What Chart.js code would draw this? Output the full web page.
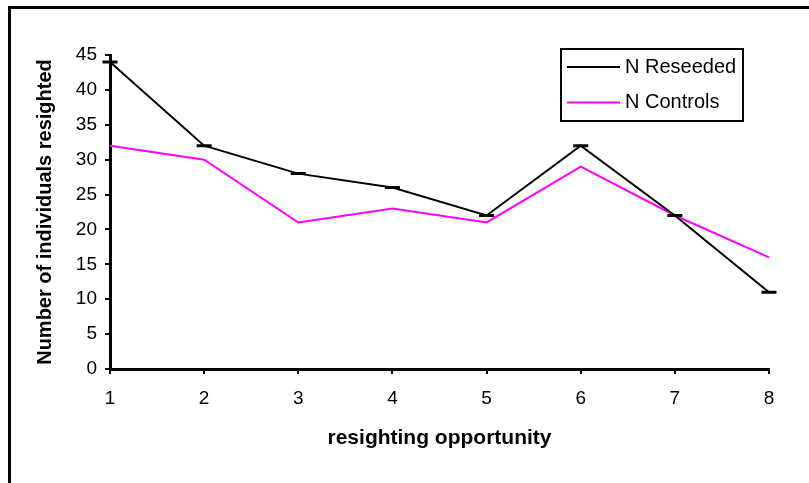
<!DOCTYPE html>
<html>
<head>
<meta charset="utf-8">
<script src="https://cdn.jsdelivr.net/npm/chart.js@4.4.1/dist/chart.umd.min.js"></script>
<style>
  html, body { margin: 0; padding: 0; background: #fff; }
  #wrap { position: relative; width: 809px; height: 483px; }
  #frame { position: absolute; left: 8px; top: 6px; width: 801px; height: 477px;
           border-top: 3px solid #000; border-left: 3px solid #000; box-sizing: border-box;
           pointer-events: none; }
</style>
</head>
<body>
<div id="wrap">
  <canvas id="myChart" width="809" height="483"></canvas>
  <div id="frame"></div>
</div>
<script>
const opportunities = ['1', '2', '3', '4', '5', '6', '7', '8'];
const nReseeded = [44, 32, 28, 26, 22, 32, 22, 11];
const nControls = [32, 30, 21, 23, 21, 29, 22, 16];
const yMin = 0, yMax = 45, yStep = 5;

const FONT = '"Liberation Sans", Arial, sans-serif';

// legend drawn as a boxed key inside the plot, like the original
const boxLegend = {
  id: 'boxLegend',
  afterDraw(chart) {
    const ctx = chart.ctx;
    ctx.save();
    ctx.lineWidth = 2;
    ctx.strokeStyle = '#000';
    ctx.strokeRect(561, 49, 182, 72);
    chart.data.datasets.forEach((ds, i) => {
      const y = 67 + i * 35.5;
      ctx.strokeStyle = ds.borderColor;
      ctx.lineWidth = 2;
      ctx.beginPath();
      ctx.moveTo(567, y);
      ctx.lineTo(620, y);
      ctx.stroke();
      ctx.fillStyle = '#000';
      ctx.font = '20px ' + FONT;
      ctx.textBaseline = 'middle';
      ctx.fillText(ds.label, 625, y);
    });
    ctx.restore();
  }
};

const ctx = document.getElementById('myChart');
new Chart(ctx, {
  type: 'line',
  data: {
    labels: opportunities,
    datasets: [{
      label: 'N Reseeded',
      data: nReseeded,
      borderColor: '#000000',
      backgroundColor: '#000000',
      borderWidth: 2,
      pointStyle: 'line',
      pointRadius: 7.5,
      pointBorderWidth: 3,
      pointBorderColor: '#000000',
      tension: 0
    }, {
      label: 'N Controls',
      data: nControls,
      borderColor: '#FF00FF',
      backgroundColor: '#FF00FF',
      borderWidth: 2,
      pointRadius: 0,
      tension: 0
    }]
  },
  options: {
    responsive: false,
    animation: false,
    layout: { padding: { left: 0, top: 55, right: 40, bottom: 0 } },
    plugins: {
      legend: { display: false },
      tooltip: { enabled: false }
    },
    scales: {
      x: {
        type: 'category',
        offset: false,
        afterFit(scale) { scale.height = 114; },
        grid: { drawOnChartArea: false, drawTicks: true, tickLength: 5, color: '#000', lineWidth: 2 },
        border: { color: '#000', width: 3 },
        ticks: { color: '#000', font: { family: FONT, size: 19 }, padding: 13, maxRotation: 0 },
        title: {
          display: true,
          text: 'resighting opportunity',
          color: '#000',
          font: { family: FONT, size: 21, weight: 'bold' },
          padding: { top: 0, bottom: 32 }
        }
      },
      y: {
        min: yMin,
        max: yMax,
        afterFit(scale) { scale.width = 110; },
        grid: { drawOnChartArea: false, drawTicks: true, tickLength: 5, color: '#000', lineWidth: 2 },
        border: { color: '#000', width: 3 },
        ticks: { stepSize: yStep, color: '#000', font: { family: FONT, size: 19 }, padding: 8 },
        title: {
          display: true,
          text: 'Number of individuals resighted',
          color: '#000',
          font: { family: FONT, size: 20, weight: 'bold' },
          padding: { top: 33, bottom: 0 }
        }
      }
    }
  },
  plugins: [boxLegend]
});
</script>
</body>
</html>
